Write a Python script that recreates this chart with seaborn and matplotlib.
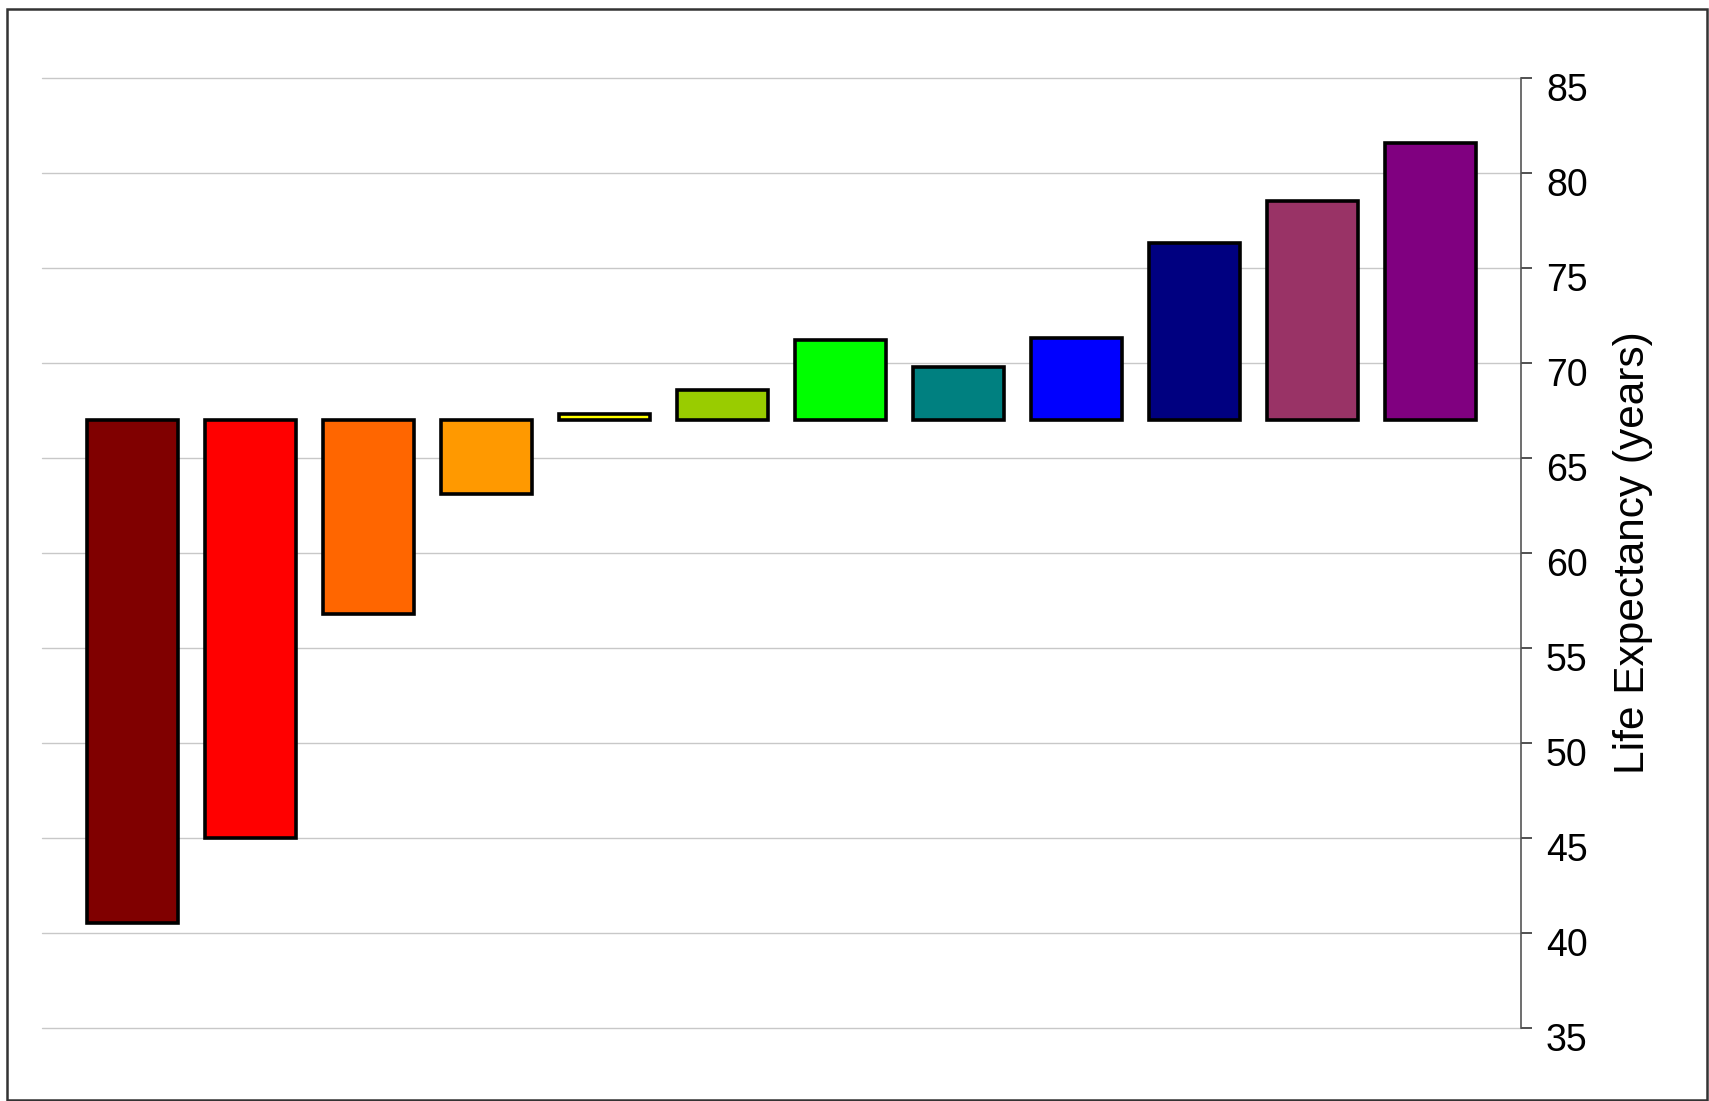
import numpy as np
import pandas as pd
import seaborn as sns
import matplotlib.pyplot as plt
import matplotlib.transforms as mtransforms
from matplotlib.patches import Rectangle

# Data
groups = ["G1", "G2", "G3", "G4", "G5", "G6", "G7", "G8", "G9", "G10", "G11", "G12"]
life_exp = [40.5, 45.0, 56.8, 63.1, 67.3, 68.6, 71.2, 69.8, 71.3, 76.3, 78.5, 81.6]
baseline = 67.0
bar_colors = ["#800000", "#FF0000", "#FF6600", "#FF9900", "#FFFF00", "#99CC00",
              "#00FF00", "#008080", "#0000FF", "#000080", "#993366", "#800080"]
y_ticks = [35, 40, 45, 50, 55, 60, 65, 70, 75, 80, 85]

df = pd.DataFrame({"group": groups, "life": life_exp})
df["delta"] = df["life"] - baseline

sns.set_style("white")
plt.rcParams["font.family"] = ["Liberation Sans", "DejaVu Sans"]
plt.rcParams["text.color"] = "black"
plt.rcParams["ytick.color"] = "black"
plt.rcParams["axes.labelcolor"] = "black"

fig = plt.figure(figsize=(17.09, 11.01), dpi=100)
ax = fig.add_axes([0.0246, 0.0663, 0.8654, 0.8629])

sns.barplot(data=df, x="group", y="delta", hue="group", palette=bar_colors,
            saturation=1, legend=False, width=0.77, bottom=baseline,
            edgecolor="black", linewidth=2.6, ax=ax, zorder=3)

ax.set_xlim(-0.77, 11.77)
ax.set_ylim(35, 85)
ax.set_yticks(y_ticks)
ax.set_xticks([])
ax.set_xlabel("")

# right-hand axis like the original
ax.yaxis.tick_right()
ax.yaxis.set_label_position("right")
ax.set_ylabel("Life Expectancy (years)", fontsize=30.5, labelpad=18, color="black")
ax.tick_params(axis="y", which="major", direction="out", length=8, width=1.2,
               color="#333333", labelcolor="black", labelsize=27, pad=10,
               right=True, left=False)
offset = mtransforms.ScaledTranslation(0, -0.09, fig.dpi_scale_trans)
for lab in ax.get_yticklabels():
    lab.set_transform(lab.get_transform() + offset)

for side in ["left", "top", "bottom"]:
    ax.spines[side].set_visible(False)
ax.spines["right"].set_color("#555555")
ax.spines["right"].set_linewidth(1.2)

ax.yaxis.grid(True, color="#c8c8c8", linewidth=1.0, zorder=0)
ax.set_axisbelow(True)
for gl in ax.get_ygridlines():
    gl.set_clip_on(False)

# outer frame around the chart
fig.patches.append(Rectangle((7 / 1709, 1 / 1101), 1700 / 1709, 1091 / 1101,
                             transform=fig.transFigure, fill=False,
                             edgecolor="#333333", linewidth=1.8))

fig.savefig("out.png", dpi=100)
